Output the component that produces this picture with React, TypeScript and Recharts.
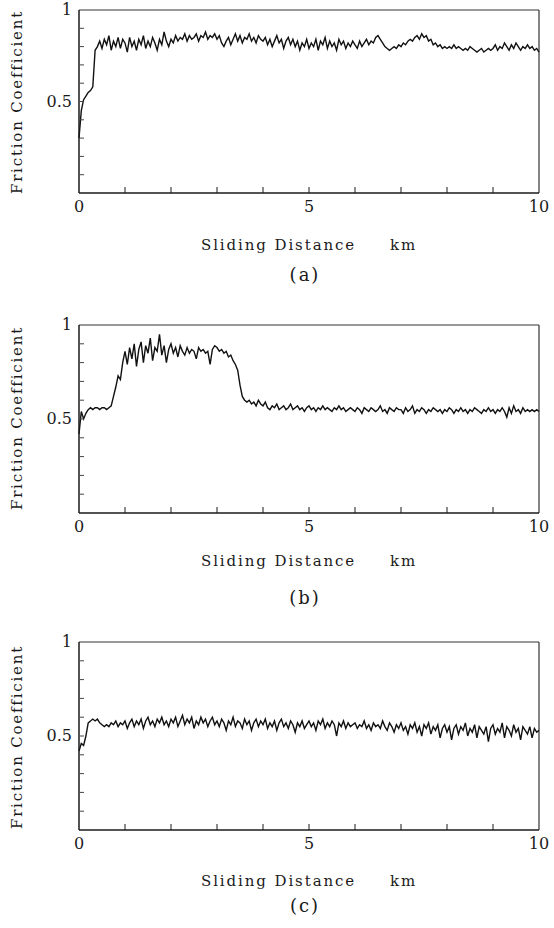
import React from "react";
import { LineChart, Line, XAxis, YAxis, ReferenceLine } from "recharts";

const STEP_KM = 0.05;

const MU_A = [
  0.30, 0.45, 0.51, 0.53, 0.55, 0.56, 0.58, 0.78,
  0.80, 0.83, 0.79, 0.84, 0.81, 0.86, 0.78, 0.83, 0.80, 0.85, 0.79, 0.84,
  0.82, 0.77, 0.85, 0.80, 0.83, 0.78, 0.84, 0.81, 0.86, 0.79, 0.83, 0.80, 0.85, 0.82, 0.78, 0.84, 0.81, 0.88, 0.83, 0.80,
  0.84, 0.82, 0.86, 0.83, 0.85, 0.84, 0.87, 0.83, 0.86, 0.84, 0.85, 0.87, 0.83, 0.86, 0.85, 0.88, 0.84, 0.86, 0.85, 0.87,
  0.84, 0.86, 0.82, 0.80, 0.83, 0.85, 0.81, 0.84, 0.87, 0.83, 0.86, 0.82, 0.85, 0.84, 0.87, 0.83, 0.85, 0.82, 0.86, 0.84,
  0.83, 0.85, 0.81, 0.84, 0.80, 0.83, 0.86, 0.82, 0.84, 0.79, 0.83, 0.85, 0.81, 0.84, 0.80, 0.83, 0.78, 0.82, 0.80, 0.84,
  0.79, 0.82, 0.80, 0.84, 0.78, 0.83, 0.81, 0.85, 0.79, 0.83, 0.80, 0.82, 0.78, 0.84, 0.81, 0.83, 0.79, 0.82, 0.80, 0.83,
  0.81, 0.79, 0.83, 0.80, 0.82, 0.84, 0.81, 0.83, 0.82, 0.85, 0.86, 0.84, 0.82, 0.80, 0.79, 0.78, 0.79, 0.80, 0.79, 0.81,
  0.80, 0.82, 0.81, 0.83, 0.84, 0.83, 0.85, 0.86, 0.84, 0.87, 0.85, 0.86, 0.83, 0.84, 0.81, 0.82, 0.80, 0.81, 0.79, 0.80,
  0.79, 0.80, 0.79, 0.81, 0.79, 0.80, 0.79, 0.78, 0.79, 0.78, 0.80, 0.79, 0.78, 0.77, 0.78, 0.79, 0.77, 0.78, 0.79, 0.78,
  0.79, 0.81, 0.78, 0.80, 0.79, 0.82, 0.80, 0.78, 0.81, 0.79, 0.82, 0.80, 0.78, 0.80, 0.79, 0.81, 0.79, 0.80, 0.78, 0.79, 0.77,
];

const MU_B = [
  0.42, 0.54, 0.50, 0.53, 0.55, 0.56, 0.55, 0.56, 0.56, 0.55, 0.56, 0.56, 0.55, 0.56, 0.57, 0.62, 0.67, 0.73, 0.71, 0.80,
  0.86, 0.79, 0.88, 0.82, 0.90, 0.78, 0.87, 0.91, 0.80, 0.89, 0.85, 0.93, 0.81, 0.88, 0.86, 0.95, 0.84, 0.89, 0.80, 0.87,
  0.90, 0.85, 0.88, 0.83, 0.89, 0.86, 0.84, 0.88, 0.85, 0.87, 0.86, 0.82, 0.88, 0.86, 0.87, 0.85, 0.86, 0.79, 0.87, 0.89,
  0.88, 0.86, 0.87, 0.85, 0.86, 0.83, 0.84, 0.81, 0.79, 0.76, 0.68, 0.62, 0.60, 0.59, 0.60, 0.58, 0.59, 0.57, 0.60, 0.58,
  0.57, 0.59, 0.56, 0.55, 0.57, 0.56, 0.58, 0.55, 0.56, 0.57, 0.55, 0.56, 0.58, 0.55, 0.56, 0.57, 0.55, 0.56, 0.54, 0.56,
  0.57, 0.55, 0.56, 0.54, 0.56, 0.55, 0.57, 0.55, 0.56, 0.55, 0.54, 0.56, 0.55, 0.57, 0.55, 0.56, 0.54, 0.55, 0.56, 0.55,
  0.54, 0.56, 0.55, 0.53, 0.56, 0.55, 0.54, 0.56, 0.55, 0.54, 0.55, 0.57, 0.54, 0.55, 0.53, 0.56, 0.55, 0.54, 0.56, 0.55,
  0.55, 0.53, 0.56, 0.54, 0.55, 0.57, 0.53, 0.55, 0.54, 0.56, 0.55, 0.53, 0.55, 0.54, 0.56, 0.55, 0.54, 0.55, 0.53, 0.55,
  0.54, 0.56, 0.55, 0.53, 0.55, 0.54, 0.56, 0.54, 0.55, 0.53, 0.55, 0.54, 0.56, 0.55, 0.54, 0.53, 0.55, 0.54, 0.56, 0.54,
  0.55, 0.53, 0.55, 0.54, 0.56, 0.54, 0.51, 0.56, 0.53, 0.57, 0.54, 0.55, 0.53, 0.56, 0.54, 0.55, 0.54, 0.55, 0.54, 0.55, 0.54,
];

const MU_C = [
  0.42, 0.46, 0.45, 0.50, 0.57, 0.58, 0.59, 0.58, 0.59, 0.57, 0.56, 0.55, 0.56, 0.55, 0.57, 0.56, 0.58, 0.55, 0.57, 0.56,
  0.58, 0.54, 0.57, 0.59, 0.55, 0.58, 0.56, 0.59, 0.54, 0.58, 0.60, 0.56, 0.58, 0.55, 0.59, 0.57, 0.60, 0.56, 0.58, 0.55,
  0.59, 0.57, 0.60, 0.55, 0.58, 0.61, 0.56, 0.59, 0.57, 0.60, 0.54, 0.58, 0.56, 0.60, 0.57, 0.59, 0.55, 0.58, 0.60, 0.56,
  0.58, 0.55, 0.59, 0.57, 0.53, 0.58, 0.56, 0.60, 0.55, 0.58, 0.57, 0.54, 0.59, 0.56, 0.58, 0.53, 0.57, 0.59, 0.55, 0.58,
  0.56, 0.59, 0.54, 0.57, 0.55, 0.58, 0.53, 0.57, 0.59, 0.55, 0.57, 0.54, 0.58, 0.56, 0.52, 0.57, 0.55, 0.58, 0.54, 0.56,
  0.58, 0.55, 0.57, 0.53, 0.58, 0.56, 0.59, 0.54, 0.57, 0.55, 0.58, 0.56, 0.50, 0.57, 0.55, 0.58, 0.54, 0.57, 0.55, 0.56,
  0.57, 0.54, 0.56, 0.55, 0.58, 0.54, 0.56, 0.53, 0.57, 0.55, 0.56, 0.54, 0.58, 0.55, 0.53, 0.57, 0.55, 0.52, 0.56, 0.54,
  0.57, 0.53, 0.55, 0.51, 0.56, 0.54, 0.57, 0.52, 0.55, 0.50, 0.56, 0.54, 0.57, 0.51, 0.55, 0.53, 0.56, 0.49, 0.54, 0.56,
  0.52, 0.55, 0.48, 0.54, 0.56, 0.51, 0.55, 0.53, 0.57, 0.50, 0.54, 0.52, 0.56, 0.49, 0.55, 0.53, 0.51, 0.55, 0.47, 0.54,
  0.56, 0.51, 0.54, 0.52, 0.57, 0.49, 0.55, 0.53, 0.50, 0.56, 0.52, 0.54, 0.48, 0.55, 0.53, 0.51, 0.55, 0.49, 0.54, 0.52, 0.53,
];

const X_TICKS = [0, 1, 2, 3, 4, 5, 6, 7, 8, 9, 10];
const X_LABELS = [0, 5, 10];
const Y_TICKS = [0.1, 0.2, 0.3, 0.4, 0.5, 0.6, 0.7, 0.8, 0.9, 1];
const Y_LABELS: Record<string, string> = { "0.5": "0.5", "1": "1" };

// layout per panel (px, relative to the panel's own top)
const PANELS = [
  { key: "a", mu: MU_A, top: 0, bottom: 7, yLabelMid: 102, xLabelTop: 236, capTop: 264, caption: "(a)" },
  { key: "b", mu: MU_B, top: 315, bottom: 2, yLabelMid: 103, xLabelTop: 237, capTop: 272, caption: "(b)" },
  { key: "c", mu: MU_C, top: 632, bottom: 2, yLabelMid: 105, xLabelTop: 240, capTop: 263, caption: "(c)" },
];

const FONT = "'DejaVu Serif', serif";
const INK = "#1a1a1a";

const YTick = (props: any) => {
  const { x, y, payload } = props;
  const label = Y_LABELS[String(payload.value)];
  return (
    <g>
      {payload.value !== 1 && (
        <line x1={x + 1} x2={x + 5} y1={y} y2={y} stroke="#444" strokeWidth={1} />
      )}
      {label && (
        <text x={x - 7} y={y + 5} textAnchor="end" fontSize={16} fill={INK} fontFamily={FONT}>
          {label}
        </text>
      )}
    </g>
  );
};

const XTick = (props: any) => {
  const { x, y, payload } = props;
  const v = payload.value;
  return (
    <g>
      {v > 0 && v < 10 && (
        <line x1={x} x2={x} y1={y} y2={y - 6} stroke={INK} strokeWidth={1} />
      )}
      {X_LABELS.includes(v) && (
        <text x={x} y={y + 19} textAnchor="middle" fontSize={16} fill={INK} fontFamily={FONT}>
          {v}
        </text>
      )}
    </g>
  );
};

const labelStyle: React.CSSProperties = {
  position: "absolute",
  whiteSpace: "nowrap",
  fontFamily: FONT,
  fontSize: 15,
  letterSpacing: 1.9,
  color: INK,
  lineHeight: "18px",
};

function Panel(p: (typeof PANELS)[number]) {
  const data = p.mu.map((m, i) => ({ km: i * STEP_KM, mu: m }));
  return (
    <div style={{ position: "absolute", left: 0, top: p.top, width: 554, height: 300 }}>
      <LineChart
        width={554}
        height={230}
        data={data}
        margin={{ top: 10, right: 15, left: 39, bottom: p.bottom }}
      >
        <XAxis
          dataKey="km"
          type="number"
          domain={[0, 10]}
          ticks={X_TICKS}
          interval={0}
          tickSize={0}
          tickMargin={0}
          tick={<XTick />}
          height={30}
          axisLine={{ stroke: INK, strokeWidth: 1.5 }}
          tickLine={false}
        />
        <YAxis
          type="number"
          domain={[0, 1]}
          ticks={Y_TICKS}
          interval={0}
          tickSize={0}
          tickMargin={0}
          tick={<YTick />}
          width={40}
          axisLine={{ stroke: INK, strokeWidth: 1.5 }}
          tickLine={false}
        />
        <ReferenceLine y={1} stroke="#333" strokeWidth={1} />
        <ReferenceLine x={10} stroke="#333" strokeWidth={1.2} />
        <Line
          type="linear"
          dataKey="mu"
          stroke="#111"
          strokeWidth={1.4}
          dot={false}
          isAnimationActive={false}
        />
      </LineChart>
      <div
        style={{
          ...labelStyle,
          left: 17,
          top: p.yLabelMid,
          letterSpacing: 1.8,
          transform: "translate(-50%, -50%) rotate(-90deg)",
        }}
      >
        Friction Coefficient
      </div>
      <div style={{ ...labelStyle, left: 201, top: p.xLabelTop }}>Sliding Distance</div>
      <div style={{ ...labelStyle, left: 390, top: p.xLabelTop }}>km</div>
      <div
        style={{
          ...labelStyle,
          left: 305,
          top: p.capTop,
          fontSize: 18,
          lineHeight: "22px",
          letterSpacing: 2,
          transform: "translateX(-50%)",
        }}
      >
        {p.caption}
      </div>
    </div>
  );
}

export default function App() {
  return (
    <div
      style={{
        position: "absolute",
        left: 0,
        top: 0,
        width: 554,
        height: 928,
        background: "#fff",
        overflow: "hidden",
      }}
    >
      {PANELS.map((p) => (
        <Panel {...p} />
      ))}
    </div>
  );
}
